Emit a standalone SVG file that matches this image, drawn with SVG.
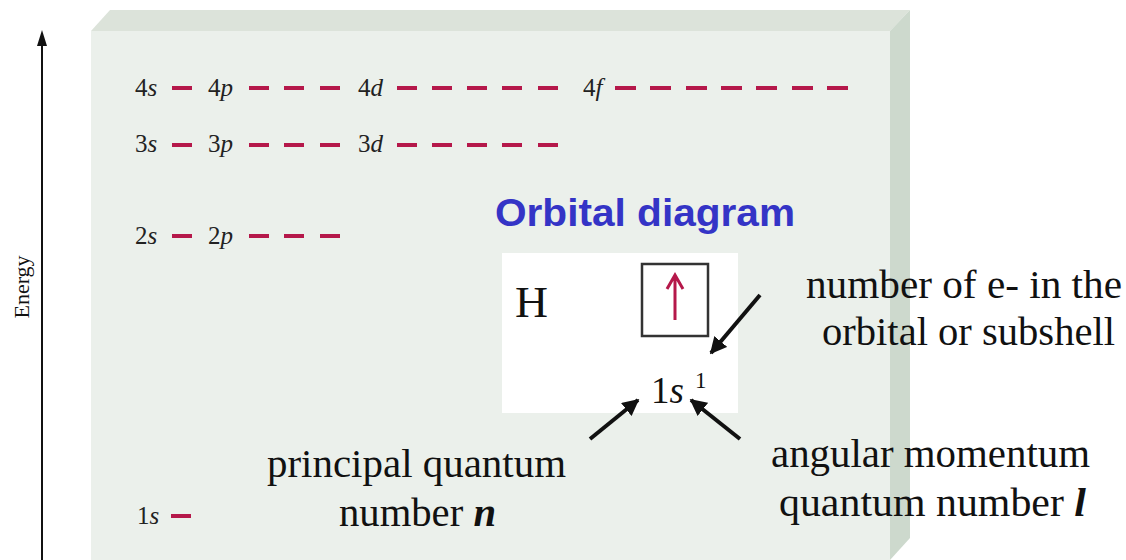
<svg xmlns="http://www.w3.org/2000/svg" width="1126" height="560" viewBox="0 0 1126 560">
<defs>
<style>
.t{font-family:"Liberation Serif","Times New Roman",serif;fill:#111}
.lv{font-family:"Liberation Serif","Times New Roman",serif;font-size:25px;fill:#222}
.it{font-style:italic}
.dash{stroke:#b5184a;stroke-width:4}
.big{font-family:"Liberation Serif","Times New Roman",serif;font-size:41px;fill:#111}
.conn{stroke:#111;stroke-width:4;fill:none}
</style>
<marker id="ah" viewBox="0 0 10 10" refX="9" refY="5" markerWidth="4.2" markerHeight="4.2" orient="auto" markerUnits="strokeWidth">
<path d="M0,0 L10,5 L0,10 z" fill="#111"/>
</marker>
</defs>
<rect width="1126" height="560" fill="#ffffff"/>
<g id="panel">
<polygon points="91,31 110,10 910,10 890,31" fill="#dce3da"/>
<polygon points="890,31 910,10 910,538 890,560" fill="#cdd9cd"/>
<rect x="91" y="31" width="799" height="529" fill="#ebf0eb"/>
</g>
<g id="energy-axis">
<line x1="42" y1="560" x2="42" y2="44" stroke="#111" stroke-width="2"/>
<path d="M42,30 L37,46 L47,46 z" fill="#111"/>
<text class="t" font-size="22" transform="translate(29,287) rotate(-90)" text-anchor="middle">Energy</text>
</g>
<g id="level-4">
<text class="lv" x="135" y="96">4<tspan class="it">s</tspan></text>
<line class="dash" x1="172" y1="88" x2="192" y2="88"/>
<text class="lv" x="208" y="96">4<tspan class="it">p</tspan></text>
<path class="dash" d="M249,88h20M284,88h20M320,88h20"/>
<text class="lv" x="358" y="96">4<tspan class="it">d</tspan></text>
<path class="dash" d="M397,88h20M432,88h20M467,88h20M502,88h20M538,88h20"/>
<text class="lv" x="583" y="96">4<tspan class="it">f</tspan></text>
<path class="dash" d="M615,88h21M650,88h21M686,88h21M721,88h21M756,88h21M792,88h21M827,88h21"/>
</g>
<g id="level-3">
<text class="lv" x="135" y="152">3<tspan class="it">s</tspan></text>
<line class="dash" x1="172" y1="145" x2="192" y2="145"/>
<text class="lv" x="208" y="152">3<tspan class="it">p</tspan></text>
<path class="dash" d="M249,145h20M284,145h20M320,145h20"/>
<text class="lv" x="358" y="152">3<tspan class="it">d</tspan></text>
<path class="dash" d="M397,145h20M432,145h20M467,145h20M502,145h20M538,145h20"/>
</g>
<g id="level-2">
<text class="lv" x="135" y="244">2<tspan class="it">s</tspan></text>
<line class="dash" x1="172" y1="236" x2="192" y2="236"/>
<text class="lv" x="208" y="244">2<tspan class="it">p</tspan></text>
<path class="dash" d="M249,236h20M284,236h20M320,236h20"/>
</g>
<g id="level-1">
<text class="lv" x="137" y="524" font-size="24">1<tspan class="it">s</tspan></text>
<line class="dash" x1="171" y1="516" x2="191" y2="516"/>
</g>
<g id="title">
<text x="495" y="226" font-family="'Liberation Sans',Arial,sans-serif" font-weight="bold" font-size="38" fill="#3434c6" textLength="300" lengthAdjust="spacingAndGlyphs">Orbital diagram</text>
</g>
<g id="orbital-box">
<rect x="502" y="253" width="236" height="160" fill="#ffffff"/>
<text class="t" x="515" y="317" font-size="44" textLength="33" lengthAdjust="spacingAndGlyphs">H</text>
<rect x="642" y="264" width="66" height="72" fill="#ffffff" stroke="#333" stroke-width="2.5"/>
<path d="M675,320V276M667,289L675,275L683,289" stroke="#b5184a" stroke-width="3" fill="none"/>
<text class="t" x="651" y="403" font-size="37">1<tspan class="it">s</tspan></text>
<text class="t" x="695" y="388" font-size="23">1</text>
</g>
<g id="label-electrons">
<text class="big" x="806" y="298" textLength="316" lengthAdjust="spacingAndGlyphs">number of e- in the</text>
<text class="big" x="822" y="345" textLength="293" lengthAdjust="spacingAndGlyphs">orbital or subshell</text>
</g>
<g id="label-n">
<text class="big" x="267" y="477" textLength="299" lengthAdjust="spacingAndGlyphs">principal quantum</text>
<text class="big" x="339" y="526" textLength="157" lengthAdjust="spacingAndGlyphs">number <tspan font-weight="bold" font-style="italic">n</tspan></text>
</g>
<g id="label-l">
<text class="big" x="771" y="467" textLength="319" lengthAdjust="spacingAndGlyphs">angular momentum</text>
<text class="big" x="779" y="516" textLength="307" lengthAdjust="spacingAndGlyphs">quantum number <tspan font-weight="bold" font-style="italic">l</tspan></text>
</g>
<g id="connectors">
<line class="conn" x1="760" y1="295" x2="711" y2="353" marker-end="url(#ah)"/>
<line class="conn" x1="590" y1="439" x2="638" y2="400" marker-end="url(#ah)"/>
<line class="conn" x1="740" y1="439" x2="691" y2="400" marker-end="url(#ah)"/>
</g>
</svg>
